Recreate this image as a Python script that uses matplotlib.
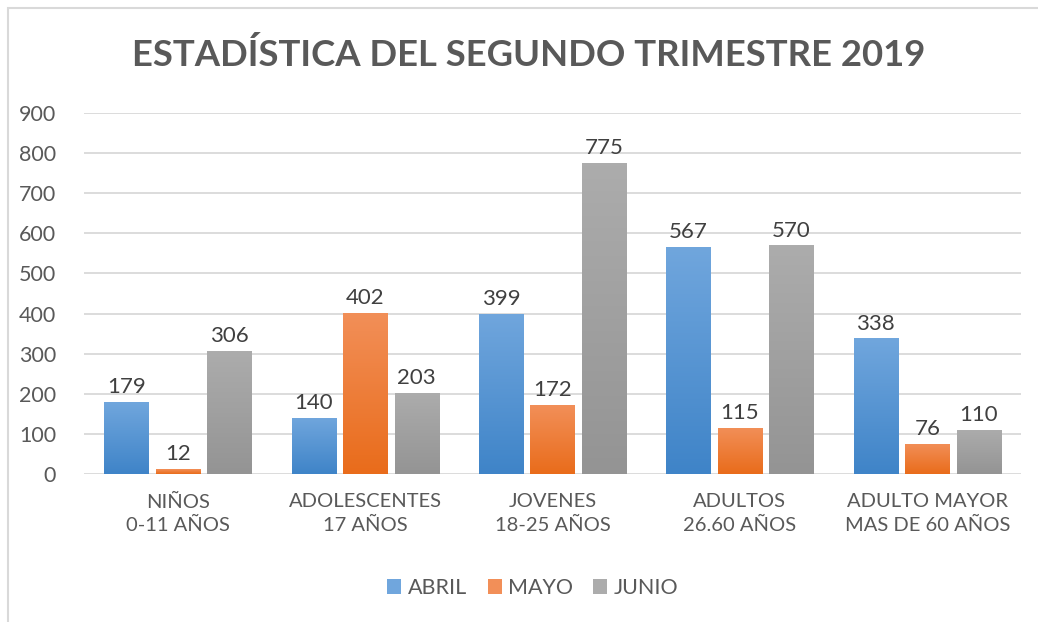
import numpy as np
import matplotlib.pyplot as plt
from matplotlib.colors import LinearSegmentedColormap
from matplotlib.patches import Rectangle

plt.rcParams['font.family'] = ['Lato', 'DejaVu Sans']

categorias = ["NIÑOS\n0-11 AÑOS", "ADOLESCENTES\n17 AÑOS", "JOVENES\n18-25 AÑOS",
              "ADULTOS\n26.60 AÑOS", "ADULTO MAYOR\nMAS DE 60 AÑOS"]
meses = ["ABRIL", "MAYO", "JUNIO"]
abril = [179, 140, 399, 567, 338]
mayo = [12, 402, 172, 115, 76]
junio = [306, 203, 775, 570, 110]
series = [abril, mayo, junio]

# (bottom, top) colours of the gradient fill
grad = [("#3f84c8", "#70a6dd"), ("#e96c1b", "#f28f58"), ("#949494", "#acacac")]

fig = plt.figure(figsize=(10.38, 6.22), dpi=100)
fig.patches.append(Rectangle((8 / 1038, -0.1), 1.2, 1.1 - 8 / 622, transform=fig.transFigure,
                             fill=False, edgecolor="#d9d9d9", linewidth=1.5))
ax = fig.add_axes([84 / 1038, 1 - 474 / 622, (1021 - 84) / 1038, (474 - 113) / 622])

x = np.arange(len(categorias))
off = 0.275
w = 0.235
grad_img = np.linspace(0, 1, 100).reshape(-1, 1)
for i, (vals, name) in enumerate(zip(series, meses)):
    cmap = LinearSegmentedColormap.from_list(name, grad[i])
    bars = ax.bar(x + (i - 1) * off, vals, w, color=grad[i][1], label=name,
                  linewidth=0, zorder=3)
    for b, v in zip(bars, vals):
        bx, by = b.get_x(), b.get_y()
        bw, bh = b.get_width(), b.get_height()
        im = ax.imshow(grad_img, extent=[bx, bx + bw, by, by + bh], origin="lower",
                       cmap=cmap, aspect="auto", zorder=4)
        im.set_clip_path(b)
        ax.text(bx + bw / 2, v + 12, str(v), ha="center", va="bottom",
                fontsize=16, color="#404040", zorder=5)

ax.set_xlim(-0.5, len(categorias) - 0.5)
ax.set_ylim(0, 900)
ax.set_yticks(np.arange(0, 901, 100))
ax.set_xticks(x)
ax.set_xticklabels(categorias, linespacing=1.45)
ax.tick_params(axis="y", length=0, labelsize=15.5, colors="#595959", pad=20)
ax.tick_params(axis="x", length=0, labelsize=14.5, colors="#595959", pad=14)
ax.grid(axis="y", color="#d9d9d9", linewidth=1.3, zorder=0)
for s in ax.spines.values():
    s.set_visible(False)

fig.text(529 / 1038, 1 - 55 / 622, "ESTADÍSTICA DEL SEGUNDO TRIMESTRE 2019", ha="center",
         va="center", fontsize=26.3, fontweight="bold", color="#595959")

leg = fig.legend(loc="center", bbox_to_anchor=(533 / 1038, 1 - 588 / 622), ncol=3,
                 frameon=False, fontsize=15.5, handlelength=0.65, handleheight=0.65,
                 handletextpad=0.3, columnspacing=0.95)
for t in leg.get_texts():
    t.set_color("#595959")

fig.savefig("out.png", dpi=100)
